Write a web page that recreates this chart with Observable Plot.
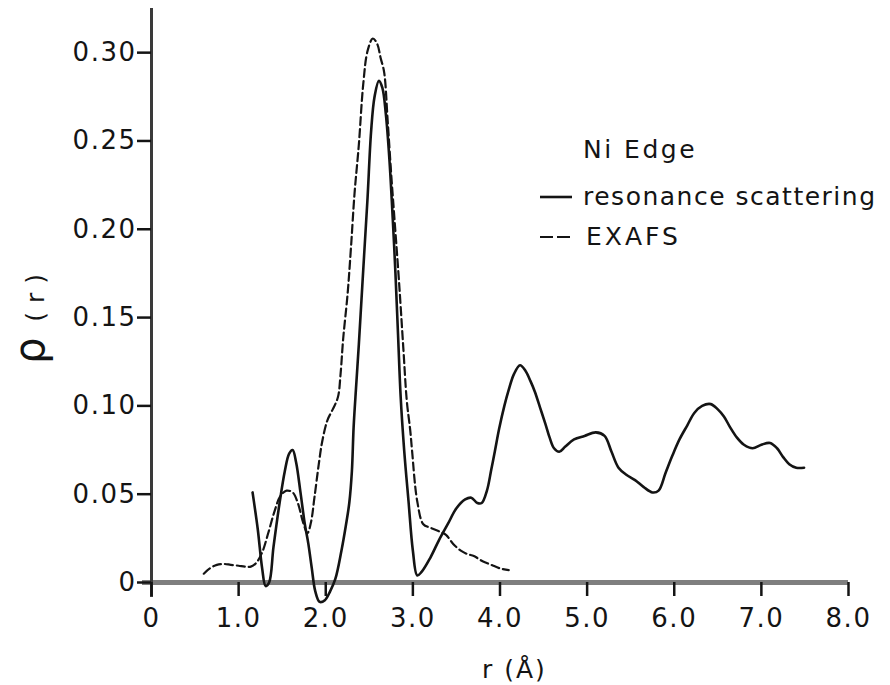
<!DOCTYPE html>
<html>
<head>
<meta charset="utf-8">
<script src="https://cdn.jsdelivr.net/npm/d3@7"></script>
<script src="https://cdn.jsdelivr.net/npm/@observablehq/plot@0.6"></script>
<style>
  html, body { margin: 0; padding: 0; background: #fff; }
  #chart svg { display: block; }
</style>
</head>
<body>
<div id="chart"></div>
<script>
// Radial distribution ρ(r) around Ni, two measurements.
const resonanceR = [1.16, 1.22, 1.27, 1.31, 1.35, 1.40, 1.47, 1.53, 1.58, 1.62, 1.66, 1.71, 1.76, 1.80, 1.84, 1.88, 1.93, 1.99, 2.05, 2.11, 2.18, 2.23, 2.27, 2.30, 2.32, 2.35, 2.38, 2.41, 2.44, 2.48, 2.52, 2.56, 2.61, 2.65, 2.69, 2.73, 2.77, 2.80, 2.83, 2.86, 2.90, 2.95, 3.00, 3.05, 3.10, 3.20, 3.30, 3.40, 3.50, 3.60, 3.67, 3.74, 3.79, 3.85, 3.90, 3.94, 3.99, 4.05, 4.10, 4.16, 4.23, 4.29, 4.35, 4.40, 4.46, 4.52, 4.57, 4.62, 4.68, 4.75, 4.85, 4.97, 5.10, 5.20, 5.28, 5.36, 5.45, 5.55, 5.65, 5.75, 5.82, 5.90, 5.98, 6.06, 6.15, 6.23, 6.32, 6.42, 6.50, 6.57, 6.64, 6.72, 6.80, 6.90, 7.00, 7.10, 7.18, 7.25, 7.32, 7.40, 7.49];
const resonanceRho = [0.051, 0.030, 0.008, -0.002, 0.000, 0.020, 0.045, 0.063, 0.073, 0.075, 0.068, 0.051, 0.033, 0.022, 0.008, -0.005, -0.011, -0.010, -0.005, 0.002, 0.018, 0.032, 0.045, 0.063, 0.088, 0.112, 0.135, 0.160, 0.185, 0.218, 0.255, 0.275, 0.284, 0.280, 0.265, 0.240, 0.205, 0.175, 0.140, 0.105, 0.075, 0.046, 0.018, 0.004, 0.006, 0.014, 0.024, 0.033, 0.042, 0.047, 0.048, 0.045, 0.045, 0.052, 0.064, 0.074, 0.087, 0.100, 0.109, 0.118, 0.123, 0.120, 0.114, 0.108, 0.099, 0.090, 0.082, 0.076, 0.074, 0.077, 0.081, 0.083, 0.085, 0.083, 0.074, 0.065, 0.061, 0.058, 0.054, 0.051, 0.052, 0.062, 0.072, 0.081, 0.089, 0.096, 0.100, 0.101, 0.098, 0.094, 0.088, 0.082, 0.078, 0.076, 0.078, 0.079, 0.076, 0.071, 0.067, 0.065, 0.065];

const exafsR = [0.60, 0.67, 0.75, 0.83, 0.91, 1.00, 1.08, 1.14, 1.20, 1.27, 1.34, 1.41, 1.48, 1.55, 1.62, 1.68, 1.74, 1.79, 1.83, 1.87, 1.92, 1.96, 2.02, 2.08, 2.14, 2.17, 2.20, 2.25, 2.29, 2.33, 2.38, 2.43, 2.48, 2.54, 2.59, 2.63, 2.67, 2.71, 2.75, 2.79, 2.84, 2.89, 2.93, 2.97, 2.99, 3.05, 3.12, 3.20, 3.30, 3.38, 3.46, 3.55, 3.63, 3.70, 3.80, 3.90, 4.00, 4.10];
const exafsRho = [0.005, 0.008, 0.010, 0.0105, 0.010, 0.0095, 0.009, 0.009, 0.011, 0.017, 0.028, 0.040, 0.049, 0.052, 0.051, 0.045, 0.034, 0.028, 0.034, 0.048, 0.067, 0.080, 0.092, 0.098, 0.105, 0.118, 0.138, 0.163, 0.190, 0.220, 0.248, 0.282, 0.301, 0.308, 0.305, 0.297, 0.289, 0.262, 0.232, 0.205, 0.171, 0.133, 0.103, 0.086, 0.075, 0.046, 0.033, 0.031, 0.029, 0.027, 0.022, 0.018, 0.016, 0.015, 0.012, 0.010, 0.008, 0.007];

const xTicks = [0, 1, 2, 3, 4, 5, 6, 7, 8];
const xTickLabels = ["0", "1.0", "2.0", "3.0", "4.0", "5.0", "6.0", "7.0", "8.0"];
const yTicks = [0, 0.05, 0.10, 0.15, 0.20, 0.25, 0.30];
const yTickLabels = ["0", "0.05", "0.10", "0.15", "0.20", "0.25", "0.30"];

const legendTitle = "Ni Edge";
const seriesNames = ["resonance scattering", "EXAFS"];
const xLabel = "r (Å)";

const resonance = resonanceR.map((r, i) => ({r, rho: resonanceRho[i]}));
const exafs = exafsR.map((r, i) => ({r, rho: exafsRho[i]}));

const ink = "#141414";
const font = "DejaVu Sans";

const plot = Plot.plot({
  width: 890,
  height: 685,
  marginLeft: 151,
  marginRight: 42,
  marginTop: 8,
  marginBottom: 103,
  x: {domain: [0, 8]},
  y: {domain: [0, 0.325]},
  style: {fontFamily: font, fontSize: "26px", letterSpacing: "1.5px", background: "#fff", color: ink, overflow: "visible"},
  marks: [
    // axis lines
    Plot.ruleY([0], {stroke: "#7f7f7f", strokeWidth: 5, insetLeft: -9}),
    Plot.ruleX([0], {stroke: "#3a3a3a", strokeWidth: 3, insetBottom: -15}),
    Plot.axisX({
      ticks: xTicks,
      tickFormat: d => xTickLabels[xTicks.indexOf(d)],
      tickSize: 14,
      tickPadding: 12,
      fontSize: 26,
      stroke: ink,
      strokeWidth: 2.5,
      fill: ink,
      label: null
    }),
    Plot.axisY({
      ticks: yTicks,
      tickFormat: d => yTickLabels[yTicks.indexOf(d)],
      tickSize: 14,
      tickPadding: 1,
      fontSize: 26,
      stroke: ink,
      strokeWidth: 2.5,
      fill: ink,
      label: null
    }),
    // EXAFS (dashed) and resonance scattering (solid)
    Plot.line(exafs, {x: "r", y: "rho", curve: "catmull-rom", stroke: ink, strokeWidth: 2.2, strokeDasharray: "8,4"}),
    Plot.line(resonance, {x: "r", y: "rho", curve: "catmull-rom", stroke: ink, strokeWidth: 2.6})
  ]
});

document.getElementById("chart").appendChild(plot);

const svg = d3.select(plot);

// axis titles
svg.append("text")
  .attr("transform", "translate(44,364) rotate(-90)")
  .attr("text-anchor", "start")
  .attr("font-family", font)
  .attr("fill", ink)
  .call(t => {
    t.append("tspan").attr("font-size", 42).text("ρ");
    t.append("tspan").attr("font-size", 25).attr("dx", 14).attr("letter-spacing", "9px").text("(r)");
  });

svg.append("text")
  .attr("x", 482)
  .attr("y", 678)
  .attr("text-anchor", "start")
  .attr("font-family", font)
  .attr("font-size", 25)
  .attr("letter-spacing", "2px")
  .attr("fill", ink)
  .text(xLabel);

// legend
const legend = svg.append("g")
  .attr("font-family", font)
  .attr("font-size", 25)
  .attr("text-anchor", "start")
  .attr("fill", ink)
  .attr("letter-spacing", "1.5px");
legend.append("text").attr("x", 583).attr("y", 158).attr("letter-spacing", "2.5px").text(legendTitle);
legend.append("line").attr("x1", 540).attr("x2", 572).attr("y1", 197).attr("y2", 197)
  .attr("stroke", ink).attr("stroke-width", 2.6);
legend.append("text").attr("x", 583).attr("y", 205).text(seriesNames[0]);
legend.append("line").attr("x1", 540).attr("x2", 572).attr("y1", 237).attr("y2", 237)
  .attr("stroke", ink).attr("stroke-width", 2.2).attr("stroke-dasharray", "13,4");
legend.append("text").attr("x", 586).attr("y", 245).attr("letter-spacing", "3px").text(seriesNames[1]);
</script>
</body>
</html>
